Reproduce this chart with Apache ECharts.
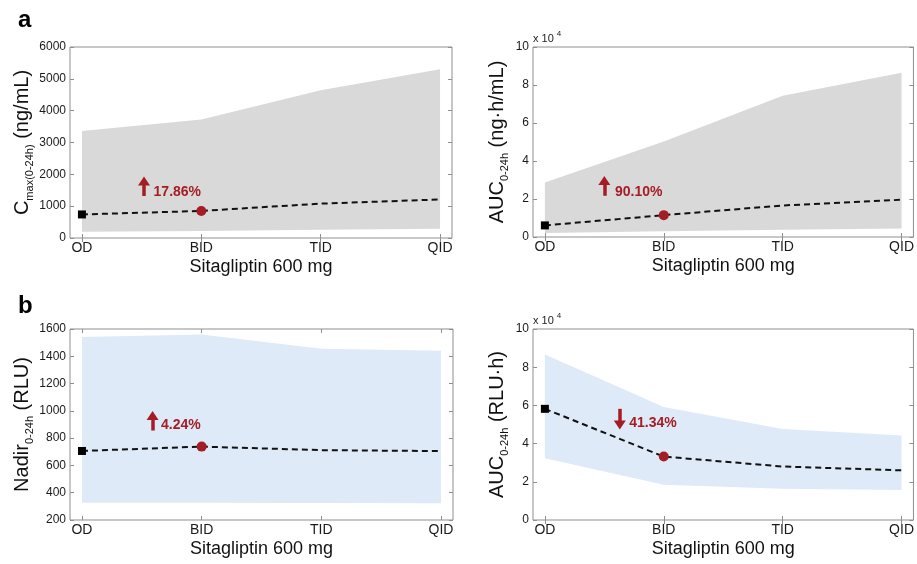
<!DOCTYPE html>
<html>
<head>
<meta charset="utf-8">
<script src="https://cdn.jsdelivr.net/npm/echarts@6/dist/echarts.min.js"></script>
<style>
  html, body { margin: 0; padding: 0; background: #fff; }
  #main { width: 917px; height: 564px; }
</style>
</head>
<body>
<div id="main"></div>
<script>
// 给药方案（x 轴）
const regimens = ['OD', 'BID', 'TID', 'QID'];
const regimenX = [1, 2, 3, 4];

// a 左：Cmax (ng/mL)
const cmaxLow = [200, 220, 260, 290];
const cmaxHigh = [3360, 3720, 4640, 5300];
const cmaxMed = [740, 850, 1080, 1210];

// a 右：AUC 0-24h (ng·h/mL)
const aucPkLow = [2100, 3000, 3800, 4500];
const aucPkHigh = [28700, 50200, 74300, 86400];
const aucPkMed = [6100, 11500, 16600, 19600];

// b 左：Nadir 0-24h (RLU)
const nadirLow = [327, 327, 325, 322];
const nadirHigh = [1541, 1559, 1456, 1441];
const nadirMed = [706, 738, 712, 705];

// b 右：AUC 0-24h (RLU·h)
const aucPdLow = [32300, 18400, 16400, 15700];
const aucPdHigh = [86700, 59100, 47700, 44200];
const aucPdMed = [58200, 33200, 28000, 26000];

// BID 相对 OD 的变化
const changeText = ['17.86%', '90.10%', '4.24%', '41.34%'];

const RED = '#a51d24';
const GRAY_BAND = '#d9d9d9';
const BLUE_BAND = '#deeaf7';
const BORDER = '#8f8f8f';
const FONT = 'Liberation Sans, Arial, sans-serif';

// 每个面板的布局和注释（箭头、百分比文字的位置，数据坐标）
const panels = [
  { grid: { left: 70, top: 47, width: 382, height: 191 },
    low: cmaxLow, high: cmaxHigh, med: cmaxMed, band: GRAY_BAND,
    yMin: 0, yMax: 6000, yStep: 1000, sci: false,
    title: '{m|C}{s|max(0-24h)}{m| (ng/mL)}', nameGap: 34,
    arrow: [1.52, 1320, 1790], text: [1.60, 1430] },
  { grid: { left: 533, top: 47, width: 382, height: 190 },
    low: aucPkLow, high: aucPkHigh, med: aucPkMed, band: GRAY_BAND,
    yMin: 0, yMax: 100000, yStep: 20000, sci: true,
    title: '{m|AUC}{s|0-24h}{m| (ng·h/mL)}', nameGap: 23,
    arrow: [1.50, 21700, 29700], text: [1.59, 23600] },
  { grid: { left: 70, top: 329, width: 383, height: 191 },
    low: nadirLow, high: nadirHigh, med: nadirMed, band: BLUE_BAND,
    yMin: 200, yMax: 1600, yStep: 200, sci: false,
    title: '{m|Nadir}{s|0-24h}{m| (RLU)}', nameGap: 33,
    arrow: [1.59, 856, 966], text: [1.66, 892] },
  { grid: { left: 533, top: 329, width: 382, height: 191 },
    low: aucPdLow, high: aucPdHigh, med: aucPdMed, band: BLUE_BAND,
    yMin: 0, yMax: 100000, yStep: 20000, sci: true,
    title: '{m|AUC}{s|0-24h}{m| (RLU·h)}', nameGap: 23,
    arrow: [1.63, 58200, 49800], text: [1.71, 50700] }
];

const nameRich = {
  m: { fontSize: 20, lineHeight: 26, fontFamily: FONT, color: '#111', verticalAlign: 'middle' },
  s: { fontSize: 11, lineHeight: 9, fontFamily: FONT, color: '#111', verticalAlign: 'bottom' }
};

let grids = [], xAxes = [], yAxes = [], series = [], graphics = [];

panels.forEach((p, i) => {
  grids.push(Object.assign({ show: true, borderColor: BORDER, borderWidth: 1, containLabel: false, z: 0 }, p.grid));

  // 下方 x 轴
  xAxes.push({
    type: 'value', gridIndex: i, min: 0.9, max: 4.1, position: 'bottom',
    name: 'Sitagliptin 600 mg', nameLocation: 'middle', nameGap: 20,
    nameTextStyle: { fontSize: 18, fontFamily: FONT, color: '#111' },
    axisLine: { show: false },
    splitLine: { show: false },
    axisTick: { inside: true, length: 4, lineStyle: { color: BORDER }, customValues: regimenX },
    axisLabel: { margin: 3, fontSize: 14, fontFamily: FONT, color: '#1a1a1a',
      customValues: regimenX, formatter: v => regimens[Math.round(v) - 1] }
  });
  // 上方 x 轴（只画刻度）
  xAxes.push({
    type: 'value', gridIndex: i, min: 0.9, max: 4.1, position: 'top',
    axisLine: { show: false }, splitLine: { show: false },
    axisTick: { inside: true, length: 4, lineStyle: { color: BORDER }, customValues: regimenX },
    axisLabel: { show: false, customValues: regimenX }
  });

  yAxes.push({
    type: 'value', gridIndex: i, min: p.yMin, max: p.yMax, interval: p.yStep, position: 'left',
    name: p.title, nameLocation: 'middle', nameRotate: 90, nameGap: p.nameGap,
    nameTextStyle: { rich: nameRich },
    axisLine: { show: false }, splitLine: { show: false },
    axisTick: { inside: true, length: 4, lineStyle: { color: BORDER } },
    axisLabel: { margin: 4, fontSize: 12, fontFamily: FONT, color: '#1a1a1a',
      formatter: v => p.sci ? String(v / 10000) : String(v) }
  });
  yAxes.push({
    type: 'value', gridIndex: i, min: p.yMin, max: p.yMax, interval: p.yStep, position: 'right',
    axisLine: { show: false }, splitLine: { show: false },
    axisTick: { inside: true, length: 4, lineStyle: { color: BORDER } },
    axisLabel: { show: false }
  });

  const xi = i * 2, yi = i * 2;

  // 区间带（上界到下界的多边形）
  series.push({
    type: 'custom', xAxisIndex: xi, yAxisIndex: yi, silent: true, z: 1,
    data: regimenX.map((x, k) => [x, p.low[k], p.high[k]]),
    encode: { x: 0, y: [1, 2] },
    renderItem: (params, api) => {
      if (params.dataIndex !== 0) return;
      const pts = [];
      regimenX.forEach((x, k) => pts.push(api.coord([x, p.high[k]])));
      for (let k = regimenX.length - 1; k >= 0; k--) pts.push(api.coord([regimenX[k], p.low[k]]));
      return { type: 'polygon', shape: { points: pts }, style: { fill: p.band } };
    }
  });

  // 中位线（虚线）
  series.push({
    type: 'line', xAxisIndex: xi, yAxisIndex: yi, silent: true, showSymbol: false, z: 3,
    lineStyle: { color: '#111', width: 2, type: [6, 4] },
    data: regimenX.map((x, k) => [x, p.med[k]])
  });

  // OD 方块 / BID 圆点
  series.push({
    type: 'scatter', xAxisIndex: xi, yAxisIndex: yi, silent: true, z: 4,
    itemStyle: { opacity: 1 },
    data: [
      { value: [regimenX[0], p.med[0]], symbol: 'rect', symbolSize: 8, itemStyle: { color: '#000', opacity: 1 } },
      { value: [regimenX[1], p.med[1]], symbol: 'circle', symbolSize: 10, itemStyle: { color: RED, opacity: 1 } }
    ]
  });

  // 箭头 + 百分比
  series.push({
    type: 'scatter', xAxisIndex: xi, yAxisIndex: yi, silent: true, z: 5,
    symbolSize: 0, itemStyle: { opacity: 1 },
    data: [[p.text[0], p.text[1]]],
    label: { show: true, position: 'right', distance: 0, formatter: changeText[i], opacity: 1,
      fontSize: 14, fontWeight: 'bold', fontFamily: FONT, color: RED },
    markLine: {
      silent: true, animation: false,
      symbol: ['none', 'triangle'], symbolSize: [12, 9],
      lineStyle: { color: RED, width: 3.5, type: 'solid', opacity: 1 },
      itemStyle: { color: RED, opacity: 1 },
      label: { show: false },
      data: [[{ coord: [p.arrow[0], p.arrow[1]] }, { coord: [p.arrow[0], p.arrow[2]] }]]
    }
  });

  if (p.sci) {
    graphics.push({
      type: 'text', left: p.grid.left, top: p.grid.top - 17,
      style: { text: '{a|x 10}{b|4}', rich: {
        a: { fontSize: 11, fontFamily: FONT, fill: '#222', verticalAlign: 'bottom', lineHeight: 14 },
        b: { fontSize: 8, fontFamily: FONT, fill: '#222', verticalAlign: 'top', lineHeight: 14, padding: [0, 0, 0, 3] }
      } }
    });
  }
});

const chart = echarts.init(document.getElementById('main'), null, { renderer: 'canvas' });
chart.setOption({
  backgroundColor: '#fff',
  animation: false,
  title: [
    { text: 'a', left: 13, top: 3, textStyle: { fontSize: 24, fontWeight: 'bold', fontFamily: FONT, color: '#000' } },
    { text: 'b', left: 13, top: 289, textStyle: { fontSize: 24, fontWeight: 'bold', fontFamily: FONT, color: '#000' } }
  ],
  grid: grids,
  xAxis: xAxes,
  yAxis: yAxes,
  graphic: graphics,
  series: series
});
</script>
</body>
</html>
